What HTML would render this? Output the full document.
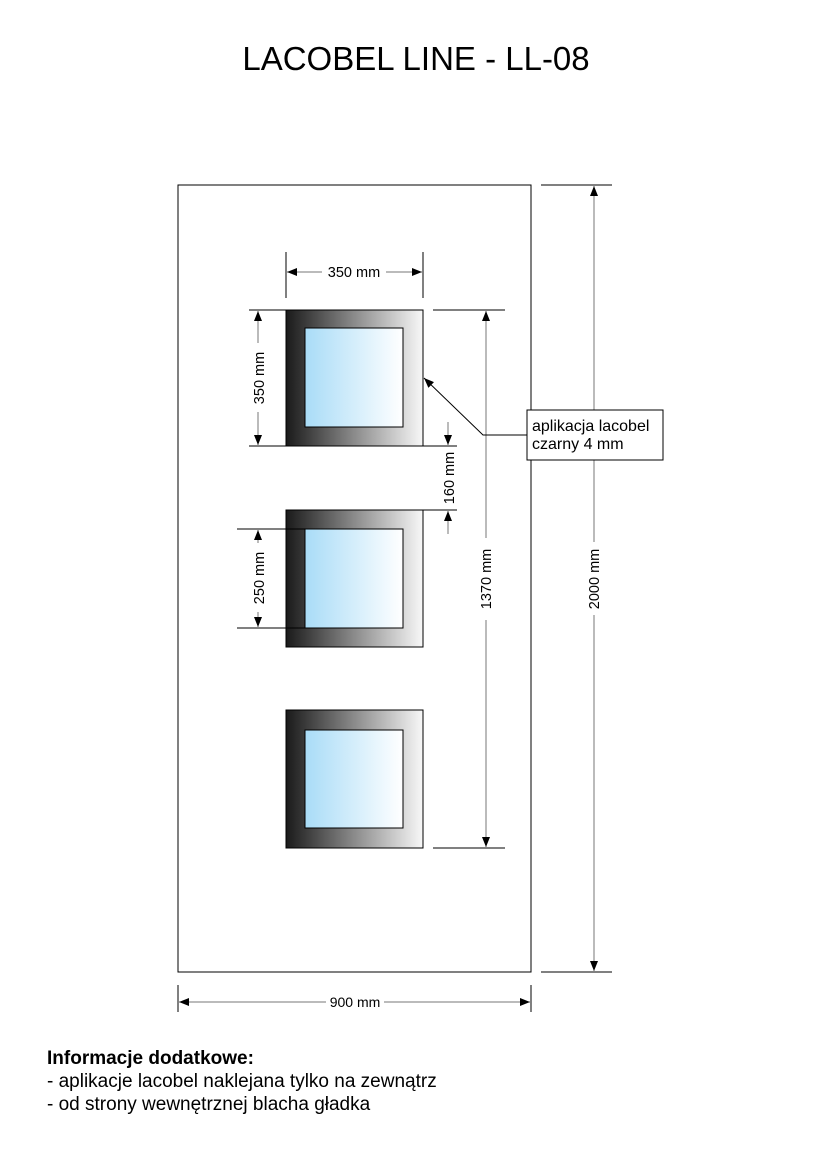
<!DOCTYPE html>
<html><head><meta charset="utf-8"><style>
body{margin:0;background:#fff;}
svg{display:block;font-family:"Liberation Sans",Arial,sans-serif;}
</style></head><body>
<svg width="826" height="1169" viewBox="0 0 826 1169">
<defs>
<linearGradient id="fr" x1="0" x2="1" y1="0" y2="0"><stop offset="0" stop-color="#1a1a1a"/><stop offset="0.45" stop-color="#808080"/><stop offset="1" stop-color="#f8f8f8"/></linearGradient>
<linearGradient id="gl" x1="0" x2="1" y1="0" y2="0"><stop offset="0" stop-color="#a9dcf7"/><stop offset="1" stop-color="#ffffff"/></linearGradient>
<marker id="a" viewBox="0 0 10 10" refX="10" refY="5" markerWidth="10" markerHeight="10" markerUnits="userSpaceOnUse" orient="auto-start-reverse"><path d="M0,1 L10,5 L0,9 Z" fill="#000"/></marker>
</defs>
<text x="416" y="70" font-size="33" text-anchor="middle">LACOBEL LINE - LL-08</text>
<rect x="178" y="185" width="353" height="787" fill="none" stroke="#000" stroke-width="1"/>
<g stroke="#000" stroke-width="1">
<rect x="286" y="310" width="137" height="136" fill="url(#fr)"/>
<rect x="305" y="328" width="98" height="99" fill="url(#gl)"/>
<rect x="286" y="510" width="137" height="137" fill="url(#fr)"/>
<rect x="305" y="529" width="98" height="99" fill="url(#gl)"/>
<rect x="286" y="710" width="137" height="138" fill="url(#fr)"/>
<rect x="305" y="730" width="98" height="98" fill="url(#gl)"/>
</g>
<g stroke="#000" stroke-width="1" fill="none">
<line x1="541" y1="185" x2="612" y2="185"/><line x1="541" y1="972" x2="612" y2="972"/>
<line x1="433" y1="310" x2="505" y2="310"/><line x1="433" y1="848" x2="505" y2="848"/>
<line x1="178" y1="985" x2="178" y2="1012"/><line x1="531" y1="985" x2="531" y2="1012"/>
<line x1="286" y1="252" x2="286" y2="298"/><line x1="423" y1="252" x2="423" y2="298"/>
<line x1="249" y1="310" x2="286" y2="310"/><line x1="249" y1="446" x2="457" y2="446"/>
<line x1="423" y1="510" x2="457" y2="510"/>
<line x1="237" y1="529" x2="305" y2="529"/><line x1="237" y1="628" x2="305" y2="628"/>
</g>
<g stroke="#777" stroke-width="1" fill="none">
<line x1="594" y1="186" x2="594" y2="542" marker-start="url(#a)"/><line x1="594" y1="615" x2="594" y2="971" marker-end="url(#a)"/>
<line x1="486" y1="311" x2="486" y2="538" marker-start="url(#a)"/><line x1="486" y1="620" x2="486" y2="847" marker-end="url(#a)"/>
<line x1="179" y1="1002" x2="326" y2="1002" marker-start="url(#a)"/><line x1="384" y1="1002" x2="530" y2="1002" marker-end="url(#a)"/>
<line x1="287" y1="272" x2="322" y2="272" marker-start="url(#a)"/><line x1="386" y1="272" x2="422" y2="272" marker-end="url(#a)"/>
<line x1="258" y1="311" x2="258" y2="343" marker-start="url(#a)"/><line x1="258" y1="412" x2="258" y2="445" marker-end="url(#a)"/>
<line x1="258" y1="530" x2="258" y2="543" marker-start="url(#a)"/><line x1="258" y1="612" x2="258" y2="627" marker-end="url(#a)"/>
<line x1="448" y1="422" x2="448" y2="445" marker-end="url(#a)"/><line x1="448" y1="534" x2="448" y2="511" marker-end="url(#a)"/>
</g>
<polyline points="527,435 483,435 424,378" fill="none" stroke="#000" marker-end="url(#a)"/>
<rect x="527" y="410" width="136" height="50" fill="#fff" stroke="#000"/>
<text x="532" y="431" font-size="16">aplikacja lacobel</text>
<text x="532" y="449" font-size="16">czarny 4 mm</text>
<g font-size="14.5" fill="#000">
<text x="354" y="277" text-anchor="middle">350 mm</text>
<text x="355" y="1007" text-anchor="middle" font-size="14">900 mm</text>
<text transform="translate(264,378) rotate(-90)" text-anchor="middle">350 mm</text>
<text transform="translate(264,578) rotate(-90)" text-anchor="middle">250 mm</text>
<text transform="translate(454,478) rotate(-90)" text-anchor="middle">160 mm</text>
<text transform="translate(491,579) rotate(-90)" text-anchor="middle">1370 mm</text>
<text transform="translate(599,579) rotate(-90)" text-anchor="middle">2000 mm</text>
</g>
<text x="47" y="1064" font-size="19" font-weight="bold">Informacje dodatkowe:</text>
<text x="47" y="1087" font-size="19">- aplikacje lacobel naklejana tylko na zewnątrz</text>
<text x="47" y="1110" font-size="19">- od strony wewnętrznej blacha gładka</text>
</svg>
</body></html>
